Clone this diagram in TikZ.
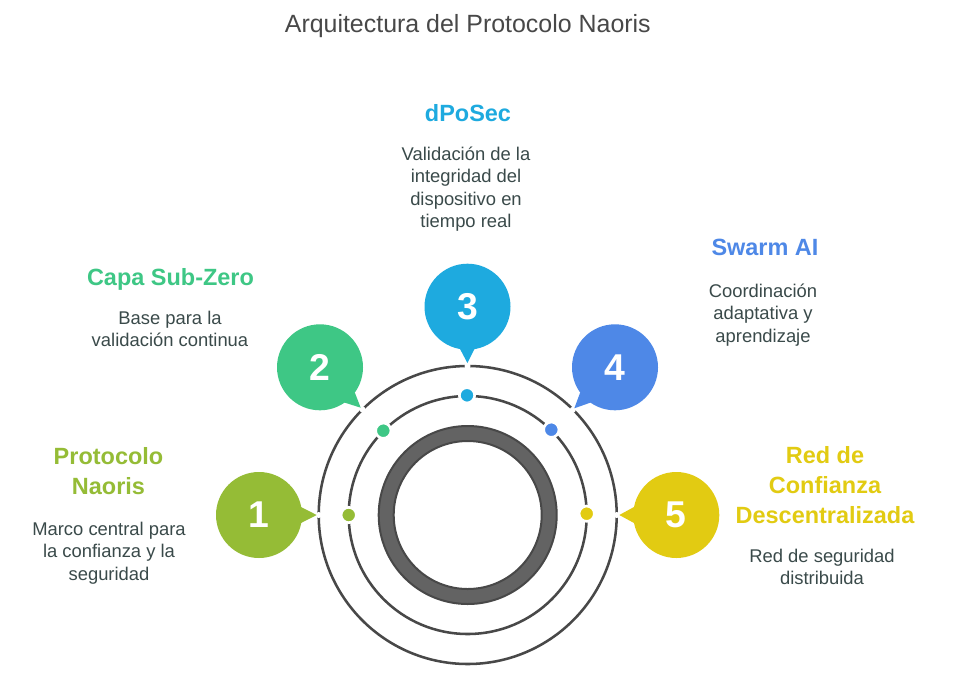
\documentclass[tikz,border=0pt]{standalone}
\usepackage{fontspec}
\setmainfont{Liberation Sans}
\definecolor{cA}{HTML}{95BC36}
\definecolor{cB}{HTML}{3EC785}
\definecolor{cC}{HTML}{1EAADF}
\definecolor{cD}{HTML}{4E88E7}
\definecolor{cE}{HTML}{E2CB12}
\definecolor{ink}{HTML}{484848}
\definecolor{tA}{HTML}{3A4A4A}
\tikzset{
 px/.style={x=0.75pt,y=-0.75pt},
 ring/.style={draw=ink,line width=1.9pt,fill=none},
 bub/.style={circle,minimum size=64.5pt,inner sep=0pt,text=white,font=\fontsize{28}{28}\selectfont\bfseries},
 dotn/.style={circle,minimum size=11.5pt,inner sep=0pt,draw=white,line width=2pt},
 gapn/.style={circle,minimum size=4.5pt,inner sep=0pt,fill=white},
 head/.style={align=center,font=\fontsize{17.6}{22.5}\selectfont\bfseries},
 body/.style={align=center,text=tA,font=\fontsize{13.8}{16.7}\selectfont},
}
\begin{document}
\begin{tikzpicture}[px]
\useasboundingbox (0,0) rectangle (955,689);
\fill[white] (0,0) rectangle (955,689);
\coordinate (ctr) at (467.7,515);
\draw[ring] (ctr) circle (149);
\draw[ring] (ctr) circle (119);
\draw[draw=ink,line width=1.5pt,fill=ink!85] (ctr) circle (89);
\draw[draw=ink,line width=1.5pt,fill=white] (ctr) circle (74);
\node[font=\fontsize{18.7}{20}\selectfont,text=ink] (title) at (467.8,26.5) {Arquitectura del Protocolo Naoris};
% small white gaps in the outer ring at the tail tips
\node[gapn] (g1) at (318.7,515) {};
\node[gapn] (g2) at (362.5,409.5) {};
\node[gapn] (g3) at (467.5,366) {};
\node[gapn] (g4) at (572.8,409.8) {};
\node[gapn] (g5) at (616.7,515) {};
% tails
\fill[cA] (285,495) -- (301,507) -- (316.7,515) -- (301,523) -- (285,535) -- cycle;
\fill[cB] (340,380) -- (355,393) -- (360.7,407.7) -- (345,402.7) -- (325,395) -- cycle;
\fill[cC] (450,330) -- (459,347) -- (467.4,363) -- (475.5,347) -- (485,330) -- cycle;
\fill[cD] (595,380) -- (580,393) -- (574.3,408.3) -- (589.3,403) -- (610,395) -- cycle;
\fill[cE] (650,495) -- (634,507) -- (619.3,515) -- (634,523) -- (650,535) -- cycle;
\node[bub,fill=cA] (n1) at (259,515) {1};
\node[bub,fill=cB] (n2) at (320,367.3) {2};
\node[bub,fill=cC] (n3) at (467.5,306.7) {3};
\node[bub,fill=cD] (n4) at (615,367.3) {4};
\node[bub,fill=cE] (n5) at (676.3,515) {5};
\node[dotn,fill=cA] (d1) at (348.7,515) {};
\node[dotn,fill=cB] (d2) at (383.3,430.7) {};
\node[dotn,fill=cC] (d3) at (467,395.3) {};
\node[dotn,fill=cD] (d4) at (551.3,429.7) {};
\node[dotn,fill=cE] (d5) at (586.7,513.7) {};
\node[head,text=cA] (h1) at (108.5,470.8) {Protocolo\\Naoris};
\node[body] (b1) at (109,553) {Marco central para\\la confianza y la\\seguridad};
\node[head,text=cB] (h2) at (170.5,279) {Capa Sub-Zero};
\node[body] (b2) at (170,329) {Base para la\\validación continua};
\node[head,text=cC] (h3) at (468,113.5) {dPoSec};
\node[body] (b3) at (466,189) {Validación de la\\integridad del\\dispositivo en\\tiempo real};
\node[head,text=cD] (h4) at (765,247.8) {Swarm AI};
\node[body] (b4) at (763,315) {Coordinación\\adaptativa y\\aprendizaje};
\node[head,text=cE] (h5) at (825,485.2) {Red de\\Confianza\\Descentralizada};
\node[body] (b5) at (822,567) {Red de seguridad\\distribuida};
\end{tikzpicture}
\end{document}
